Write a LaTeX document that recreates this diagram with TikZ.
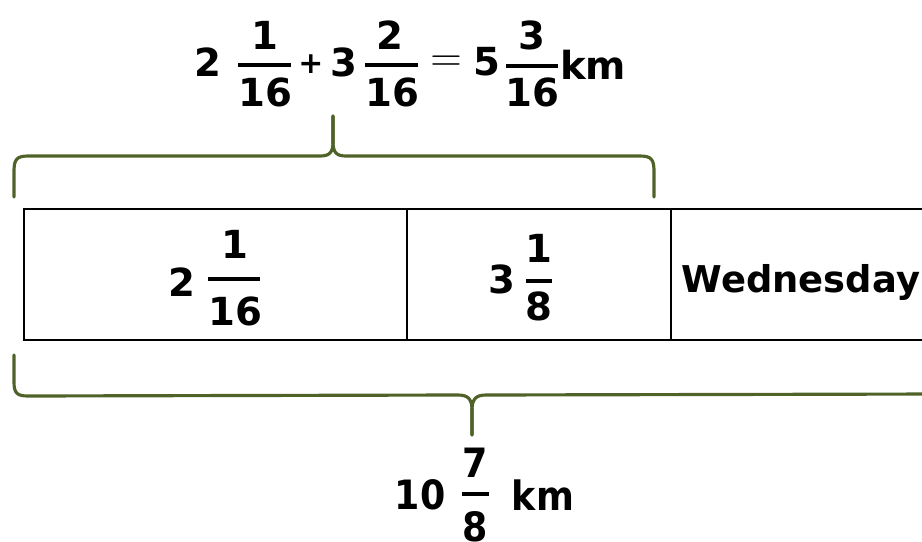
\documentclass[tikz,border=0pt]{standalone}
\usepackage{fontspec}
\setmainfont{DejaVu Sans}
\newfontfamily\condfont{DejaVu Sans Condensed}
\definecolor{braceolive}{RGB}{79,98,40}
\tikzset{
  txt/.style={inner sep=0pt, font=\fontsize{22}{26}\selectfont\bfseries},
  wtxt/.style={inner sep=0pt, font=\fontsize{21}{25}\selectfont\bfseries},
  smalltxt/.style={inner sep=0pt, font=\fontsize{17}{19}\selectfont\bfseries},
  cond/.style={inner sep=0pt, font=\fontsize{23}{27}\selectfont\condfont\bfseries},
  fracbar/.style={line width=2.2pt},
  bracepath/.style={draw=braceolive, line width=1.8pt, line join=round, line cap=round},
  cell/.style={draw=black, line width=1.2pt}
}
\begin{document}
\begin{tikzpicture}[x=0.02cm,y=-0.02cm]
\useasboundingbox (0,0) rectangle (922,541);
\clip (0,0) rectangle (922,541);
% top equation
\node[txt] (t2) at (208,62) {2};
\node[txt] (t1n) at (265,35) {1};
\draw[fracbar] (238,65) -- (291,65);
\node[txt] (t1d) at (265,92) {16};
\node[smalltxt] (tplus) at (311,64) {+};
\node[txt] (t3) at (344,62) {3};
\node[txt] (t2n) at (390,35) {2};
\draw[fracbar] (365,65) -- (418,65);
\node[txt] (t2d) at (392,92) {16};
\node[inner sep=0pt, font=\fontsize{24}{26}\selectfont] (teq) at (446,64) {$=$};
\node[txt] (t5) at (487,62) {5};
\node[txt] (t3n) at (532,35) {3};
\draw[fracbar] (506,66) -- (558,66);
\node[txt] (t3d) at (532,92) {16};
\node[txt] (tkm) at (593,65) {km};
% top brace
\draw[bracepath] (14,197) -- (14,172) .. controls (14,160) and (16,156) .. (28,156)
  -- (320,156) .. controls (330,156) and (333,152) .. (333,142) -- (333,116);
\draw[bracepath] (333,116) -- (333,142) .. controls (333,152) and (336,156) .. (346,156)
  -- (640,156) .. controls (652,156) and (654,160) .. (654,172) -- (654,197);
% box
\draw[cell] (24,209) rectangle (940,340);
\draw[cell] (407,209) -- (407,340);
\draw[cell] (671,209) -- (671,340);
\node[txt] (b2) at (182,282) {2};
\node[txt] (b1n) at (235,244) {1};
\draw[fracbar] (208,279) -- (260,279);
\node[txt] (b1d) at (235,311) {16};
\node[txt] (b3) at (502,279) {3};
\node[txt] (b8n) at (539,248) {1};
\draw[fracbar] (526,281) -- (552,281);
\node[txt] (b8d) at (539,306) {8};
\node[wtxt] (wed) at (801,282) {Wednesday};
% bottom brace
\draw[bracepath] (14,355) -- (14,382) .. controls (14,393) and (17,396) .. (28,396)
  -- (458,395) .. controls (468,395) and (472,399) .. (472,410) -- (472,435);
\draw[bracepath] (472,435) -- (472,410) .. controls (472,399) and (476,395) .. (486,395)
  -- (940,394);
% bottom label
\node[cond] (s10) at (420,495) {10};
\node[cond] (s7) at (475,463) {7};
\draw[fracbar] (462,494) -- (489,494);
\node[cond] (s8) at (475,527) {8};
\node[cond] (skm) at (543,495) {km};
\end{tikzpicture}
\end{document}
